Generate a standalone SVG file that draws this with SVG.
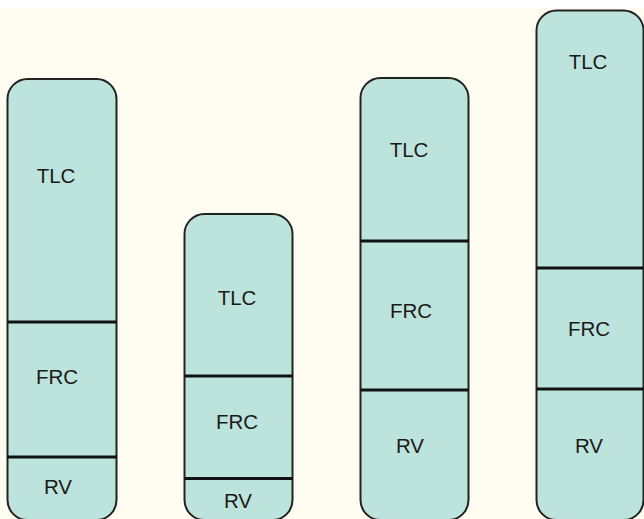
<svg xmlns="http://www.w3.org/2000/svg" width="644" height="519" viewBox="0 0 644 519">
<style>
.col{fill:#bce4dc;stroke:#222;stroke-width:2}
.div{stroke:#111;stroke-width:3}
.lbl{font-family:"Liberation Sans",Arial,sans-serif;font-size:20.5px;fill:#1a1a1a;text-anchor:middle}
</style>
<rect x="0" y="0" width="644" height="519" fill="#fffdf1"/>
<rect x="0" y="0" width="644" height="8" fill="#ffffff"/>
<g id="col1">
<rect class="col" x="7.5" y="79" width="109" height="441" rx="20"/>
<line class="div" x1="7.5" y1="322" x2="116.5" y2="322"/>
<line class="div" x1="7.5" y1="457" x2="116.5" y2="457"/>
<text class="lbl" x="56" y="183">TLC</text>
<text class="lbl" x="57" y="384">FRC</text>
<text class="lbl" x="58" y="493.5">RV</text>
</g>
<g id="col2">
<rect class="col" x="184.5" y="214" width="108" height="306" rx="20"/>
<line class="div" x1="184.5" y1="376" x2="292.5" y2="376"/>
<line class="div" x1="184.5" y1="478.5" x2="292.5" y2="478.5"/>
<text class="lbl" x="237" y="305">TLC</text>
<text class="lbl" x="237" y="429">FRC</text>
<text class="lbl" x="238" y="507.5">RV</text>
</g>
<g id="col3">
<rect class="col" x="360.5" y="78" width="108" height="442" rx="20"/>
<line class="div" x1="360.5" y1="241" x2="468.5" y2="241"/>
<line class="div" x1="360.5" y1="390" x2="468.5" y2="390"/>
<text class="lbl" x="409" y="156.5">TLC</text>
<text class="lbl" x="411" y="318">FRC</text>
<text class="lbl" x="410" y="453">RV</text>
</g>
<g id="col4">
<rect class="col" x="536.5" y="10.5" width="107" height="509.5" rx="20"/>
<line class="div" x1="536.5" y1="268" x2="643.5" y2="268"/>
<line class="div" x1="536.5" y1="389" x2="643.5" y2="389"/>
<text class="lbl" x="588" y="69">TLC</text>
<text class="lbl" x="589" y="336">FRC</text>
<text class="lbl" x="589" y="453">RV</text>
</g>
<g id="connectors"></g>
</svg>
